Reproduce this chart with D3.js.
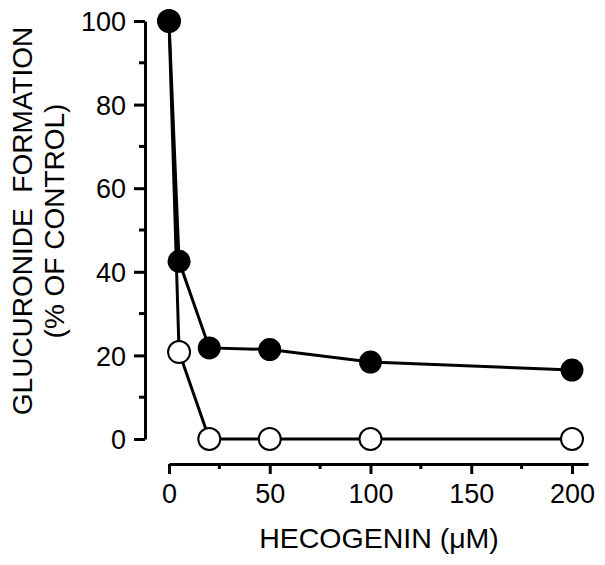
<!DOCTYPE html>
<meta charset="utf-8">
<style>
body { margin: 0; background: #fff; }
text { font-family: "Liberation Sans", Arial, sans-serif; fill: #000; }
.axis path, .axis line { stroke: #000; stroke-width: 3px; }
</style>
<svg width="605" height="565"></svg>
<script src="https://d3js.org/d3.v7.min.js"></script>
<script>

// hecogenin concentration (uM)
var conc = [0, 5, 20, 50, 100, 200];
// glucuronide formation, % of control
var filledVals = [100, 42.5, 21.8, 21.4, 18.4, 16.5];
var openVals   = [100, 20.8, 0, 0, 0, 0];

var xMajor = [0, 50, 100, 150, 200];
var xMinor = [25, 75, 125, 175];
var yMajor = [0, 20, 40, 60, 80, 100];
var yMinor = [10, 30, 50, 70, 90];

var svg = d3.select("svg");

svg.append("rect")
   .attr("width", "100%")
   .attr("height", "100%")
   .attr("fill", "#FFFFFF");

var x = d3.scaleLinear().domain([0, 208]).range([169, 588.1]);
var y = d3.scaleLinear().domain([0, 100]).range([439, 21]);

// y axis
var yAxis = svg.append("g")
    .attr("class", "axis")
    .attr("transform", "translate(145,0)")
    .call(d3.axisLeft(y).tickValues(yMajor).tickSize(11).tickSizeOuter(0).tickPadding(8));
yAxis.selectAll("text").attr("font-size", "27px").attr("dy", "0.36em");
yAxis.selectAll(".minor")
    .data(yMinor).enter().append("line")
    .attr("class", "minor")
    .attr("x1", -6).attr("x2", 0)
    .attr("y1", function(d) { return y(d); })
    .attr("y2", function(d) { return y(d); });

// x axis
var xAxis = svg.append("g")
    .attr("class", "axis")
    .attr("transform", "translate(0,464)")
    .call(d3.axisBottom(x).tickValues(xMajor).tickSize(10).tickSizeOuter(0).tickPadding(10));
xAxis.selectAll("text").attr("font-size", "27px");
xAxis.selectAll(".minor")
    .data(xMinor).enter().append("line")
    .attr("class", "minor")
    .attr("x1", function(d) { return x(d); })
    .attr("x2", function(d) { return x(d); })
    .attr("y1", 0).attr("y2", 5);

// axis titles
svg.append("text")
   .attr("x", 379).attr("y", 548)
   .attr("text-anchor", "middle")
   .attr("font-size", "28.5px")
   .text("HECOGENIN (\u03BCM)");

svg.append("text")
   .attr("transform", "translate(32,221) rotate(-90)")
   .attr("text-anchor", "middle")
   .attr("font-size", "28px")
   .attr("xml:space", "preserve")
   .text("GLUCURONIDE  FORMATION");

svg.append("text")
   .attr("transform", "translate(64,221) rotate(-90)")
   .attr("text-anchor", "middle")
   .attr("font-size", "28px")
   .text("(% OF CONTROL)");

var line = d3.line()
    .x(function(d) { return x(d[0]); })
    .y(function(d) { return y(d[1]); });

var openData = d3.zip(conc, openVals);
var filledData = d3.zip(conc, filledVals);

svg.append("path")
   .attr("d", line(openData))
   .attr("fill", "none")
   .attr("stroke", "#000")
   .attr("stroke-width", 3);

svg.append("path")
   .attr("d", line(filledData))
   .attr("fill", "none")
   .attr("stroke", "#000")
   .attr("stroke-width", 3);

svg.selectAll(".open")
   .data(openData).enter().append("circle")
   .attr("class", "open")
   .attr("cx", function(d) { return x(d[0]); })
   .attr("cy", function(d) { return y(d[1]); })
   .attr("r", 11)
   .attr("fill", "#fff")
   .attr("stroke", "#000")
   .attr("stroke-width", 2);

svg.selectAll(".filled")
   .data(filledData).enter().append("circle")
   .attr("class", "filled")
   .attr("cx", function(d) { return x(d[0]); })
   .attr("cy", function(d) { return y(d[1]); })
   .attr("r", 11.5)
   .attr("fill", "#000");

</script>
